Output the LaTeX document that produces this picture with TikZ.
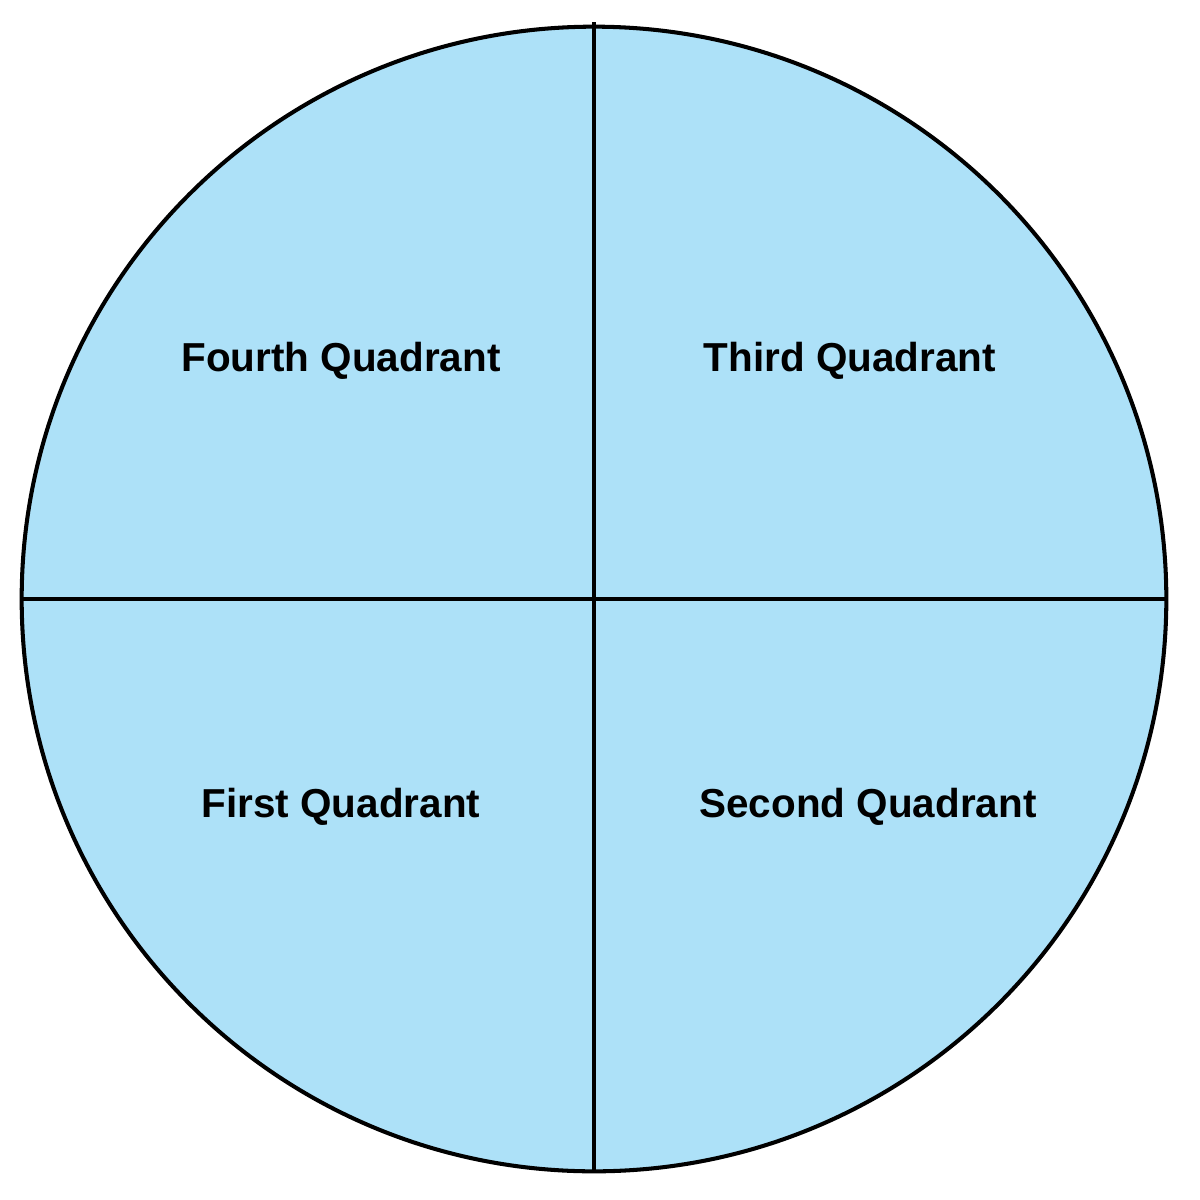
\documentclass[tikz,border=0pt]{standalone}
\usepackage{fontspec}
\setmainfont{Liberation Sans}
\begin{document}
\begin{tikzpicture}[x=0.01cm,y=-0.01cm,
  line/.style={line width=1.15pt,black},
  lbl/.style={font=\bfseries\fontsize{11.5pt}{13pt}\selectfont}]
\useasboundingbox (0,0) rectangle (1200,1200);
\definecolor{qblue}{HTML}{ADE1F8}
\node[circle,draw,line width=1.15pt,fill=qblue,minimum size=11.44cm,inner sep=0] (c) at (594,599) {};
\coordinate (t) at (594,22); \coordinate (b) at (594,1172);
\coordinate (l) at (21,599); \coordinate (r) at (1168,599);
\draw[line] (t) -- (b);
\draw[line] (l) -- (r);
\node[lbl] (q4) at (341,361) {Fourth Quadrant};
\node[lbl] (q3) at (850,361) {Third Quadrant};
\node[lbl] (q1) at (341,807) {First Quadrant};
\node[lbl] (q2) at (868,807) {Second Quadrant};
\end{tikzpicture}
\end{document}
